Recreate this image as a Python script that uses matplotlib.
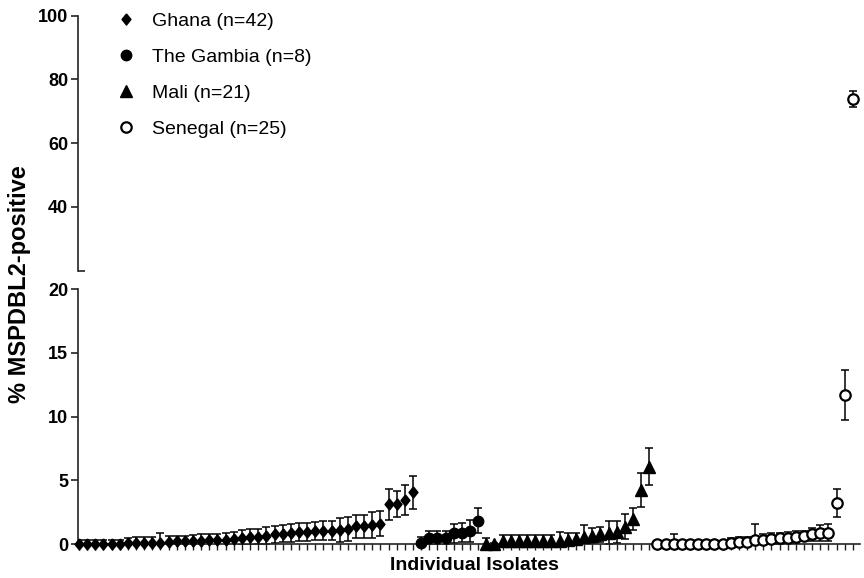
import matplotlib
matplotlib.use("Agg")
import matplotlib.pyplot as plt
import numpy as np

plt.rcParams['font.family'] = ['Liberation Sans', 'DejaVu Sans']

# % MSPDBL2-positive per isolate (mean, error), sorted within each country
ghana = [0, 0, 0, 0, 0, 0, 0.05, 0.1, 0.1, 0.1, 0.1,
         0.15, 0.2, 0.2, 0.2, 0.25, 0.3, 0.3, 0.35, 0.4,
         0.5, 0.55, 0.57, 0.65, 0.75, 0.82, 0.88, 0.92, 0.95, 1.0, 1.05, 1.05, 1.1, 1.15,
         1.4, 1.4, 1.5, 1.6, 3.1, 3.15, 3.45, 4.05]
ghana_err = [0.3, 0.3, 0.3, 0.3, 0.3, 0.35, 0.4, 0.45, 0.45, 0.45, 0.8,
             0.45, 0.45, 0.45, 0.5, 0.5, 0.5, 0.5, 0.55, 0.55,
             0.6, 0.6, 0.6, 0.65, 0.65, 0.65, 0.7, 0.7, 0.7, 0.7, 0.75, 0.75, 0.95, 0.95,
             0.9, 0.9, 1.0, 1.0, 1.2, 1.0, 1.2, 1.3]
gambia = [0.05, 0.45, 0.45, 0.45, 0.84, 0.9, 1.02, 1.83]
gambia_err = [0.5, 0.55, 0.55, 0.55, 0.75, 0.75, 0.85, 1.0]
mali = [0, 0, 0.2, 0.2, 0.2, 0.2, 0.2, 0.2, 0.2, 0.2, 0.3, 0.36,
        0.57, 0.65, 0.76, 0.89, 0.96, 1.36, 1.93, 4.24, 6.07]
mali_err = [0.5, 0.1, 0.5, 0.5, 0.5, 0.5, 0.5, 0.5, 0.5, 0.75, 0.6, 0.5,
            0.9, 0.6, 0.6, 0.9, 0.85, 0.97, 0.87, 1.35, 1.45]
senegal = [0, 0, 0, 0, 0, 0, 0, 0, 0, 0.1, 0.12, 0.15, 0.3,
           0.35, 0.4, 0.45, 0.5, 0.55, 0.6, 0.75, 0.85, 0.9, 3.2, 11.7, 73.75]
senegal_err = [0.1, 0.1, 0.75, 0.1, 0.1, 0.1, 0.1, 0.1, 0.1, 0.4, 0.4, 0.4, 1.27,
               0.45, 0.45, 0.45, 0.45, 0.45, 0.4, 0.5, 0.65, 0.65, 1.1, 1.95, 2.5]

# slightly tall diamond, as in the original figure
diamond = [(0, 1), (0.8, 0), (0, -1), (-0.8, 0), (0, 1)]

groups = [
    ("Ghana (n=42)", ghana, ghana_err, dict(marker=diamond, markersize=8, mfc='black', mec='black')),
    ("The Gambia (n=8)", gambia, gambia_err, dict(marker='o', markersize=7.5, mfc='black', mec='black')),
    ("Mali (n=21)", mali, mali_err, dict(marker='^', markersize=8, mfc='black', mec='black')),
    ("Senegal (n=25)", senegal, senegal_err, dict(marker='o', markersize=7.5, mfc='white', mec='black', mew=1.6)),
]

fig = plt.figure(figsize=(8.64, 5.78), dpi=100)
ax_lo = fig.add_axes([0.0903, 0.0588, 0.9047, 0.4412])
ax_hi = fig.add_axes([0.0903, 0.5317, 0.9047, 0.4411])

axis_col = '#222222'
start = 0
handles = []
for label, vals, errs, style in groups:
    vals = np.array(vals, dtype=float)
    errs = np.array(errs, dtype=float)
    x = np.arange(start, start + len(vals))
    start += len(vals)
    for ax, keep in ((ax_lo, vals <= 20), (ax_hi, vals >= 20)):
        y = np.where(keep, vals, np.nan)
        ax.errorbar(x, y, yerr=errs, fmt='none', ecolor='black',
                    elinewidth=1.1, capsize=3.2, capthick=1.1, zorder=2)
        h, = ax.plot(x, y, ls='none', clip_on=False, zorder=3, label=label, **style)
    handles.append(h)

n_total = start
for ax in (ax_lo, ax_hi):
    ax.set_xlim(-0.12, n_total - 0.17)
    ax.spines['top'].set_visible(False)
    ax.spines['right'].set_visible(False)
    ax.spines['left'].set_linewidth(1.2)
    ax.spines['left'].set_color(axis_col)
    ax.tick_params(axis='y', direction='out', length=5, width=1.2, color=axis_col,
                   labelsize=13, pad=2)

ax_lo.set_ylim(0, 20)
ax_lo.set_yticks([0, 5, 10, 15, 20])
ax_lo.set_yticks([20], minor=True)
ax_lo.tick_params(axis='y', which='minor', direction='in', length=5, width=1.2, color=axis_col)
ax_lo.spines['bottom'].set_linewidth(1.2)
ax_lo.spines['bottom'].set_color(axis_col)
ax_lo.set_xticks(np.arange(n_total))
ax_lo.set_xticklabels([])
ax_lo.tick_params(axis='x', direction='out', length=4, width=1.0, color=axis_col)
ax_lo.set_xlabel("Individual Isolates", fontsize=14, fontweight='bold')
ax_lo.xaxis.set_label_coords(0.507, -0.083, transform=ax_lo.transAxes)
ax_lo.xaxis.label.set_va('center')

ax_hi.set_ylim(20, 100)
ax_hi.set_yticks([40, 60, 80, 100])
ax_hi.set_yticks([20], minor=True)
ax_hi.tick_params(axis='y', which='minor', direction='in', length=5, width=1.2, color=axis_col)
ax_hi.spines['bottom'].set_visible(False)
ax_hi.set_xticks([])

for ax in (ax_lo, ax_hi):
    for t in ax.get_yticklabels():
        t.set_fontweight('bold')

fig.text(0.022, 0.508, "% MSPDBL2-positive", rotation=90, ha='center', va='center',
         fontsize=17, fontweight='bold')

fig.legend(handles=handles, loc='upper left', bbox_to_anchor=(116 / 864, 1 - 12 / 578),
           frameon=False, fontsize=14, handlelength=1.0, handletextpad=0.85,
           labelspacing=0.95, borderpad=0, borderaxespad=0)

fig.savefig("out.png", dpi=100)
